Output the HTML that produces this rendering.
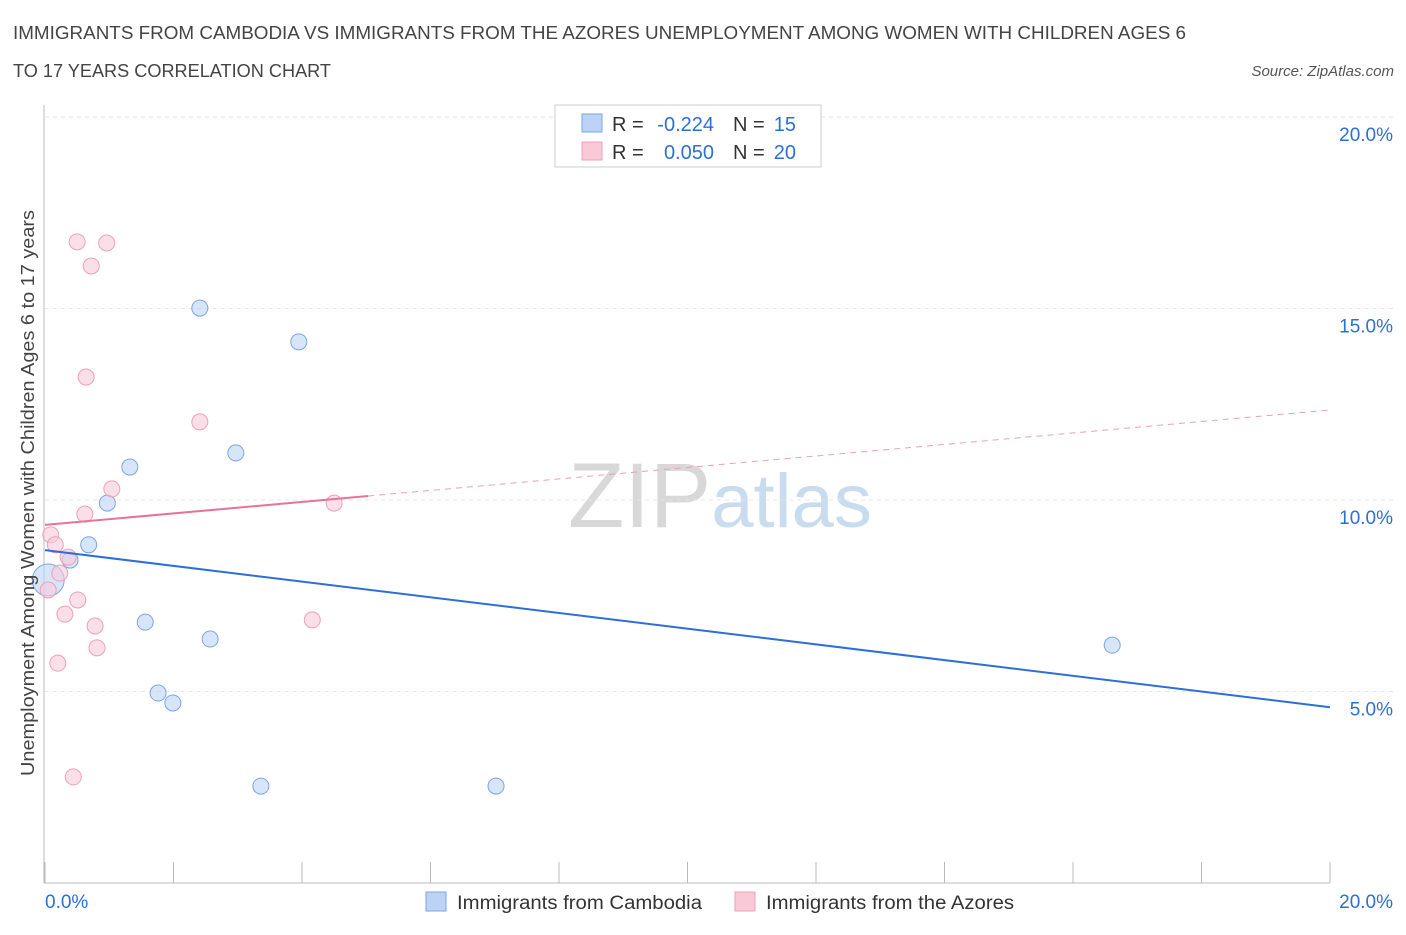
<!DOCTYPE html>
<html><head><meta charset="utf-8"><style>
body{margin:0;background:#fff;font-family:"Liberation Sans",sans-serif;}
svg text{font-family:"Liberation Sans",sans-serif;}
</style></head><body>
<svg id="chart" width="1406" height="930" xmlns="http://www.w3.org/2000/svg">
<text x="13" y="39" font-size="18" fill="#444" textLength="1173" lengthAdjust="spacingAndGlyphs">IMMIGRANTS FROM CAMBODIA VS IMMIGRANTS FROM THE AZORES UNEMPLOYMENT AMONG WOMEN WITH CHILDREN AGES 6</text>
<text x="13" y="77" font-size="18" fill="#444" textLength="318" lengthAdjust="spacingAndGlyphs">TO 17 YEARS CORRELATION CHART</text>
<text x="1394" y="76" font-size="15" fill="#555" text-anchor="end" font-style="italic">Source: ZipAtlas.com</text>
<text x="720" y="527" font-size="92" text-anchor="middle" fill="#ddd" font-family="Liberation Serif"><tspan fill="#d8d8d8">ZIP</tspan><tspan fill="#c8dbef" font-family="Liberation Sans" font-size="76">atlas</tspan></text>
<g id="grid"></g>
<g id="axes"></g>
<g id="marks"></g>
<text transform="translate(34,493) rotate(-90)" font-size="18" fill="#444" text-anchor="middle" textLength="566" lengthAdjust="spacingAndGlyphs">Unemployment Among Women with Children Ages 6 to 17 years</text>
<g>
<rect x="555" y="105" width="266" height="62" fill="#fff" stroke="#ccc"/>
<rect x="582" y="114" width="20" height="18" fill="#bcd3f5" stroke="#7aa6e6"/>
<rect x="582" y="142" width="20" height="18" fill="#f9c9d8" stroke="#eea0b8"/>
<text x="612" y="131" font-size="20" fill="#333">R =</text>
<text x="714" y="131" font-size="20" fill="#2c6fd6" text-anchor="end">-0.224</text>
<text x="733" y="131" font-size="20" fill="#333">N =</text>
<text x="796" y="131" font-size="20" fill="#2c6fd6" text-anchor="end">15</text>
<text x="612" y="159" font-size="20" fill="#333">R =</text>
<text x="714" y="159" font-size="20" fill="#2c6fd6" text-anchor="end">0.050</text>
<text x="733" y="159" font-size="20" fill="#333">N =</text>
<text x="796" y="159" font-size="20" fill="#2c6fd6" text-anchor="end">20</text>
</g>
<g>
<rect x="426" y="892" width="20" height="19" fill="#bcd3f5" stroke="#7aa6e6"/>
<text x="457" y="909" font-size="19" fill="#333" textLength="245" lengthAdjust="spacingAndGlyphs">Immigrants from Cambodia</text>
<rect x="735" y="892" width="20" height="19" fill="#f9c9d8" stroke="#eea0b8"/>
<text x="766" y="909" font-size="19" fill="#333" textLength="248" lengthAdjust="spacingAndGlyphs">Immigrants from the Azores</text>
</g>
</svg>
<script>
const yTicks=[5,10,15,20];
const yTickLabels=["5.0%","10.0%","15.0%","20.0%"];
const cambodiaX=[2.41,3.95,2.97,1.32,0.97,0.68,0.39,0.05,1.56,2.57,1.76,1.99,3.36,7.02,16.61];
const cambodiaY=[15.01,14.13,11.23,10.86,9.92,8.83,8.43,7.91,6.81,6.37,4.96,4.70,2.53,2.53,6.21];
const azoresX=[0.50,0.96,0.72,0.64,2.41,1.04,0.62,4.50,0.09,0.16,0.36,0.23,0.05,0.51,0.31,4.16,0.78,0.81,0.20,0.44];
const azoresY=[16.74,16.71,16.11,13.21,12.04,10.29,9.63,9.92,9.09,8.83,8.51,8.09,7.65,7.39,7.02,6.87,6.71,6.14,5.74,2.77];
const cambodiaTrend=[8.69,4.59];
const azoresTrend=[9.35,12.35];
const ns="http://www.w3.org/2000/svg";
const X=v=>45+v*64.25, Y=v=>883-v*38.3;
function mk(t,a,p){const e=document.createElementNS(ns,t);for(const k in a)e.setAttribute(k,a[k]);document.getElementById(p).appendChild(e);return e;}
yTicks.forEach((t,i)=>{
 const g=mk('line',{x1:45,x2:1394,y1:Y(t),y2:Y(t),stroke:'#e6e6e6','stroke-dasharray':'4,4'},'grid');
 
 
 const l=mk('text',{x:1393,y:Y(t)+24,'font-size':19,fill:'#2c6fd6','text-anchor':'end'},'axes');
 l.textContent=yTickLabels[i];
 
 
});
const ax=mk('line',{x1:44,x2:44,y1:105,y2:883,stroke:'#bbb'},'axes');


const bx=mk('line',{x1:44,x2:1330,y1:883,y2:883,stroke:'#bbb'},'axes');


for(let i=0;i<=10;i++){
 const t=mk('line',{x1:X(i*2),x2:X(i*2),y1:862,y2:883,stroke:'#bbb'},'axes');
 
 
}
const xl0=mk('text',{x:45,y:908,'font-size':19,fill:'#2c6fd6'},'axes');xl0.textContent='0.0%';


const xl1=mk('text',{x:1393,y:908,'font-size':19,fill:'#2c6fd6','text-anchor':'end'},'axes');xl1.textContent='20.0%';


cambodiaX.forEach((x,i)=>{
 const c=mk('circle',{cx:X(x),cy:Y(cambodiaY[i]),r:i==7?16:8,fill:'rgba(188,211,245,0.6)',stroke:'#7aa6e6'},'marks');
 
 
});
azoresX.forEach((x,i)=>{
 const c=mk('circle',{cx:X(x),cy:Y(azoresY[i]),r:8,fill:'rgba(249,201,216,0.6)',stroke:'#eea0b8'},'marks');
 
 
});
const bt=mk('line',{x1:X(0),y1:Y(cambodiaTrend[0]),x2:X(20),y2:Y(cambodiaTrend[1]),stroke:'#2c6fd6','stroke-width':2},'marks');


const px=5.03, py=azoresTrend[0]+(azoresTrend[1]-azoresTrend[0])*px/20;
const pt=mk('line',{x1:X(0),y1:Y(azoresTrend[0]),x2:X(px),y2:Y(py),stroke:'#e8729a','stroke-width':2},'marks');


const pd=mk('line',{x1:X(px),y1:Y(py),x2:X(20),y2:Y(azoresTrend[1]),stroke:'#e8a0b8','stroke-width':1,'stroke-dasharray':'6,5'},'marks');


</script>
</body></html>
